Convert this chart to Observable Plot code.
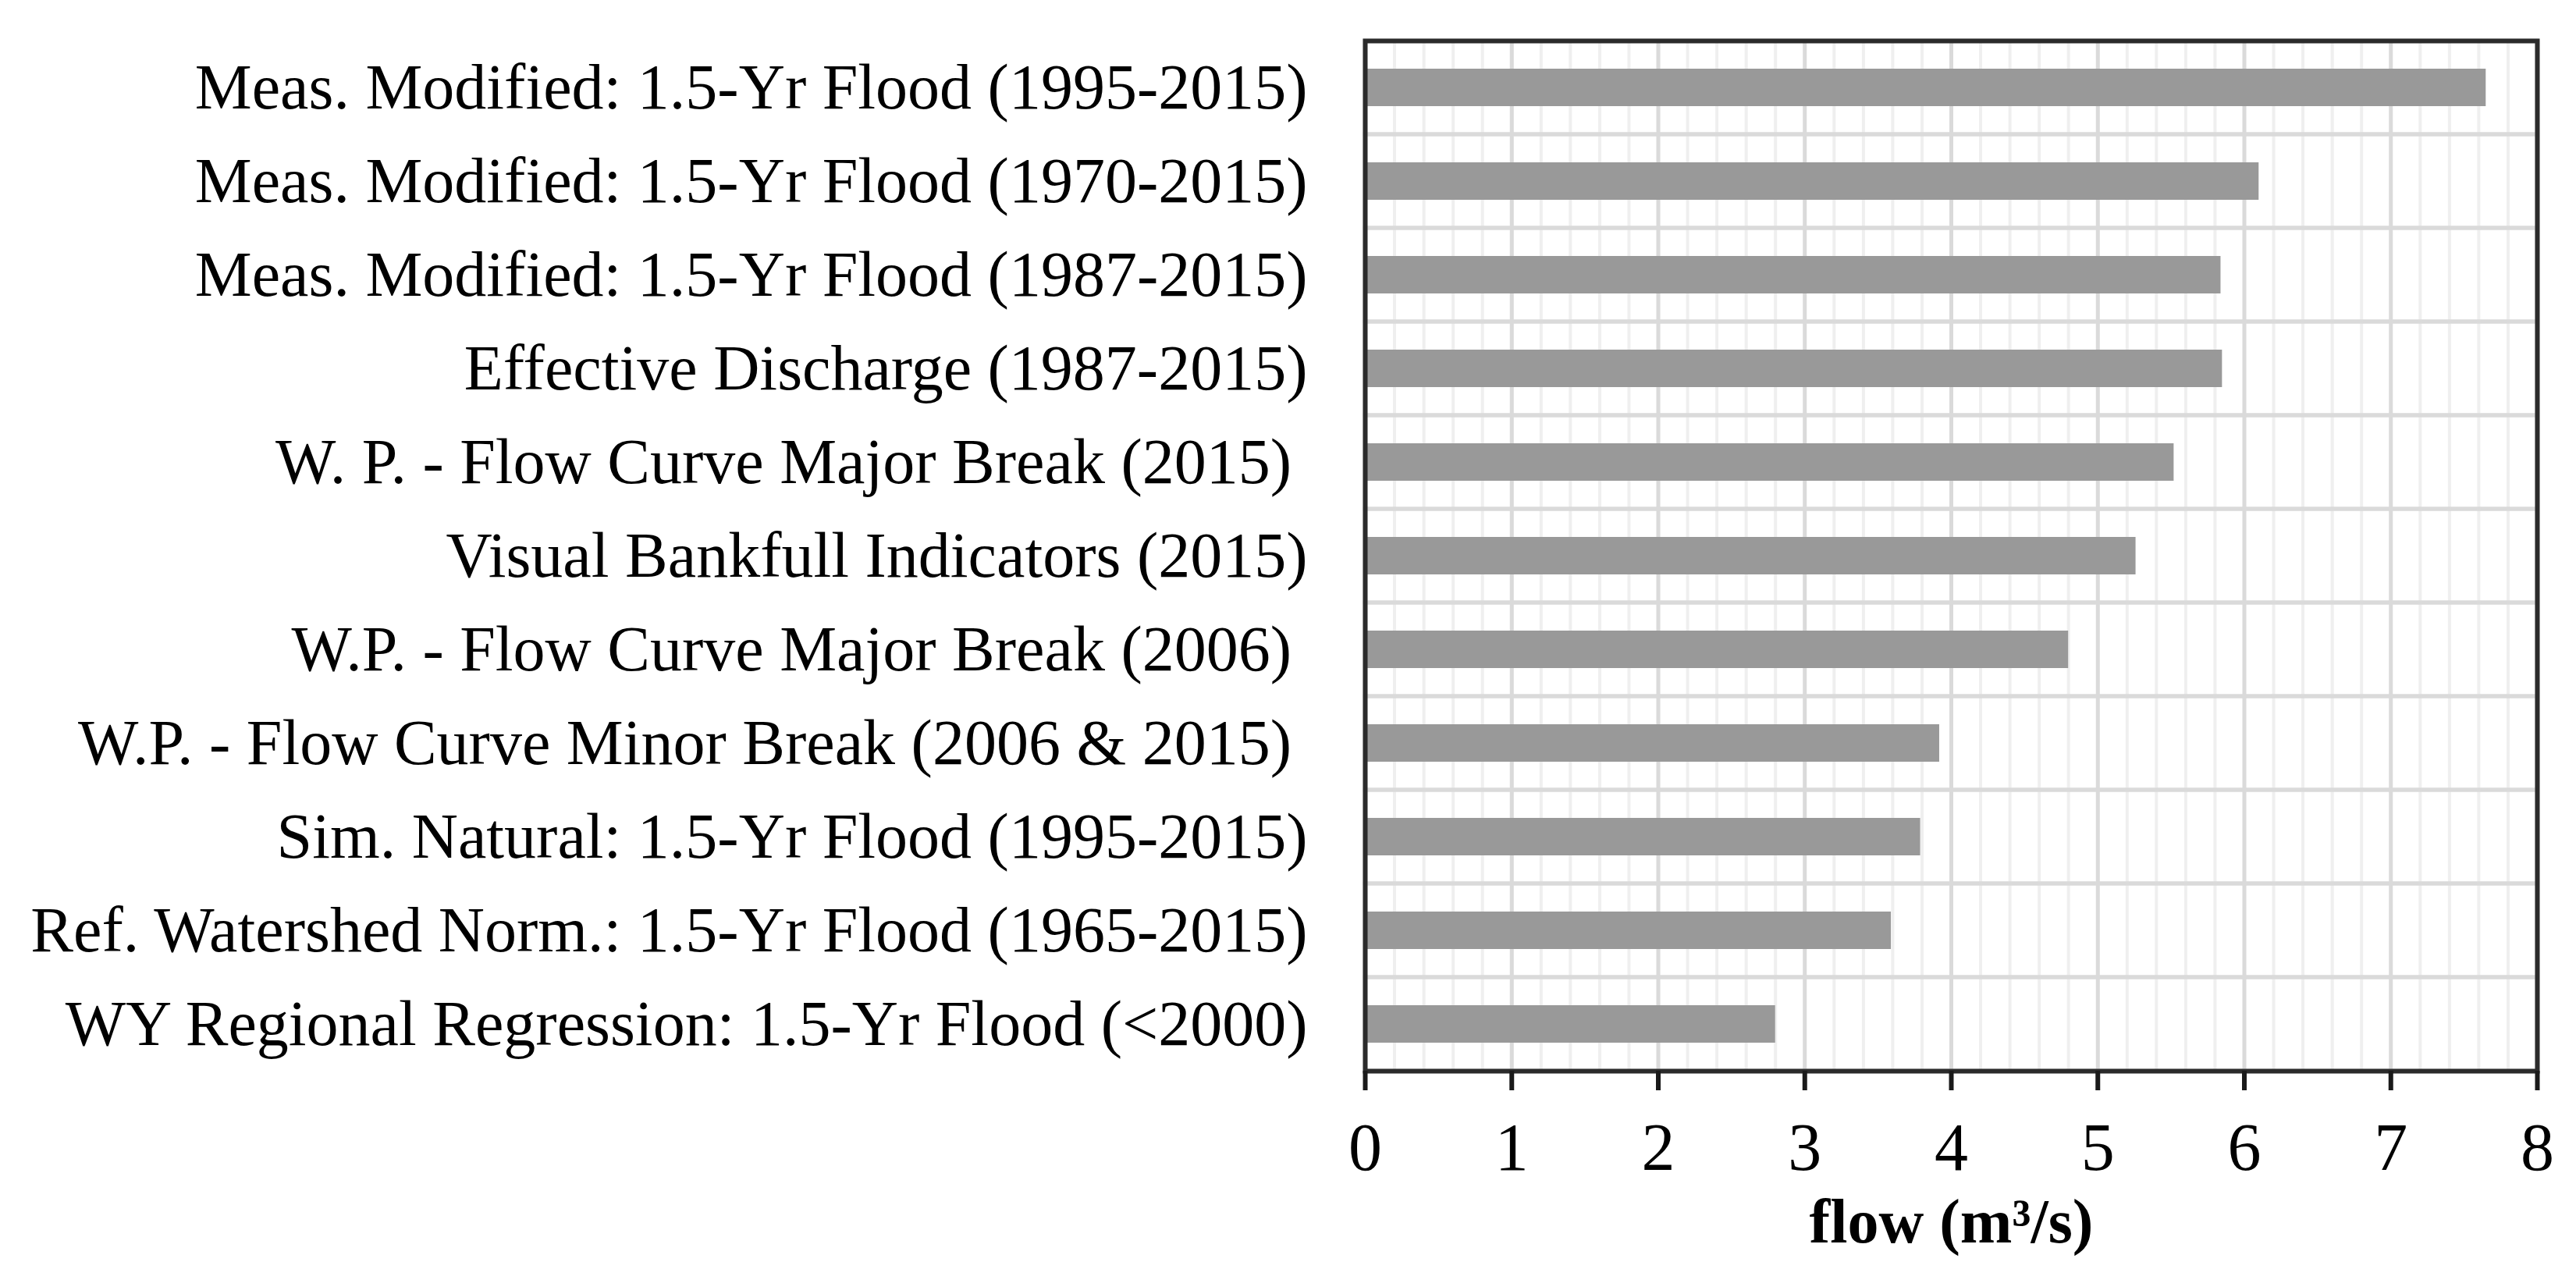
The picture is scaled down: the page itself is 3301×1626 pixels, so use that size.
<!DOCTYPE html>
<html>
<head>
<meta charset="utf-8">
<script src="https://cdn.jsdelivr.net/npm/d3@7"></script>
<script src="https://cdn.jsdelivr.net/npm/@observablehq/plot@0.6"></script>
<style>
  html, body { margin: 0; padding: 0; background: #fff; }
  #chart svg { display: block; }
  g[aria-label="x-axis label"] text { font-weight: bold; font-size: 80px; }
</style>
</head>
<body>
<div id="chart"></div>
<script>
// Categories (top to bottom)
const categories = [
  "Meas. Modified: 1.5-Yr Flood (1995-2015)",
  "Meas. Modified: 1.5-Yr Flood (1970-2015)",
  "Meas. Modified: 1.5-Yr Flood (1987-2015)",
  "Effective Discharge (1987-2015)",
  "W. P. - Flow Curve Major Break (2015)\u00a0",
  "Visual Bankfull Indicators (2015)",
  "W.P. - Flow Curve Major Break (2006)\u00a0",
  "W.P. - Flow Curve Minor Break (2006 & 2015)\u00a0",
  "Sim. Natural: 1.5-Yr Flood (1995-2015)",
  "Ref. Watershed Norm.: 1.5-Yr Flood (1965-2015)",
  "WY Regional Regression: 1.5-Yr Flood (<2000)"
];

// Flow values (m³/s)
const flows = [7.65, 6.10, 5.84, 5.85, 5.52, 5.26, 4.80, 3.92, 3.79, 3.59, 2.80];

// Axis ticks
const xTicks = [0, 1, 2, 3, 4, 5, 6, 7, 8];
const xMinorTicks = d3.range(0, 8.0001, 0.2);
const xDomain = [0, 8];
const xLabel = "flow (m³/s)";

const data = categories.map((c, i) => ({category: c, flow: flows[i]}));

const chart = Plot.plot({
  width: 3301,
  height: 1626,
  marginLeft: 1749,
  marginRight: 50,
  marginTop: 52,
  marginBottom: 254,
  style: {fontFamily: "'Liberation Serif', 'Times New Roman', serif", fontSize: "82px", background: "#fff", color: "#000"},
  x: {domain: xDomain},
  y: {domain: categories, padding: 0},
  marks: [
    Plot.ruleX(xMinorTicks, {x: d => d, stroke: "#efefef", strokeWidth: 4}),
    Plot.ruleX(xTicks, {x: d => d, stroke: "#dadada", strokeWidth: 5}),
    Plot.barX(categories, {y: d => d, x1: xDomain[0], x2: xDomain[1], fill: "none", stroke: "#dadada", strokeWidth: 5}),
    Plot.barX(data, {y: "category", x: "flow", fill: "#999999", insetTop: 36, insetBottom: 36}),
    Plot.frame({stroke: "#2b2b2b", strokeWidth: 6}),
    Plot.axisY({tickSize: 0, tickPadding: 74, fontSize: 82, label: null, fill: "#000"}),
    Plot.axisX({
      ticks: xTicks, tickFormat: d => String(d), tickSize: 25, tickPadding: 40,
      fontSize: 86, stroke: "#1a1a1a", strokeWidth: 6, fill: "#000",
      label: xLabel, labelAnchor: "center", labelArrow: "none", labelOffset: 219
    })
  ]
});
document.getElementById("chart").appendChild(chart);
</script>
</body>
</html>
